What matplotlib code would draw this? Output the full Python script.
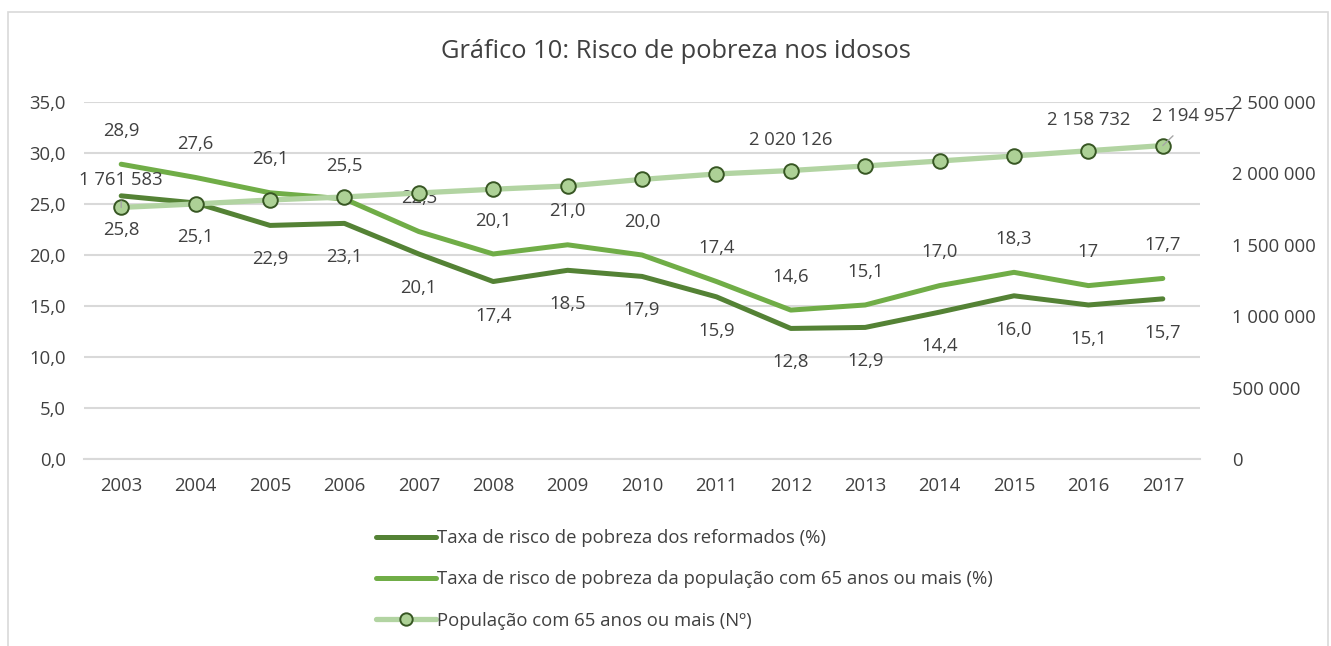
import numpy as np
import matplotlib.pyplot as plt
from matplotlib.patches import Rectangle

plt.rcParams['font.family'] = ['Open Sans', 'DejaVu Sans']

anos = [2003, 2004, 2005, 2006, 2007, 2008, 2009, 2010, 2011, 2012, 2013, 2014, 2015, 2016, 2017]
reformados = [25.8, 25.1, 22.9, 23.1, 20.1, 17.4, 18.5, 17.9, 15.9, 12.8, 12.9, 14.4, 16.0, 15.1, 15.7]
idosos = [28.9, 27.6, 26.1, 25.5, 22.3, 20.1, 21.0, 20.0, 17.4, 14.6, 15.1, 17.0, 18.3, 17.0, 17.7]
idosos_txt = ['28,9', '27,6', '26,1', '25,5', '22,3', '20,1', '21,0', '20,0', '17,4', '14,6', '15,1', '17,0', '18,3', '17', '17,7']
populacao = [1761583, 1786000, 1814000, 1835000, 1863000, 1889000, 1912000, 1958000, 1996000,
             2020126, 2052000, 2087000, 2122000, 2158732, 2194957]
pop_labels = {2003: '1 761 583', 2012: '2 020 126', 2016: '2 158 732', 2017: '2 194 957'}

c_dark = '#548235'
c_mid = '#70AD47'
c_light = '#B2D4A2'
c_text = '#404040'
fs = 13.3

fig = plt.figure(figsize=(13.31, 6.46), dpi=100)
fig.patches.append(Rectangle((8 / 1331, -0.01), 1320 / 1331, 1 - 12 / 646 + 0.01, transform=fig.transFigure,
                             fill=False, edgecolor='#D9D9D9', linewidth=1.2))
ax = fig.add_axes([84 / 1331, 1 - 459 / 646, 1116 / 1331, 357 / 646])
ax2 = ax.twinx()

x = np.arange(len(anos))
l1, = ax.plot(x, reformados, color=c_dark, lw=3.6, solid_capstyle='round', zorder=3,
              label='Taxa de risco de pobreza dos reformados (%)')
l2, = ax.plot(x, idosos, color=c_mid, lw=3.6, solid_capstyle='round', zorder=3,
              label='Taxa de risco de pobreza da população com 65 anos ou mais (%)')
l3, = ax2.plot(x, populacao, color=c_light, lw=3.8, marker='o', ms=10.5, mfc='#ADD196',
               mec='#375623', mew=1.4, solid_capstyle='round',
               label='População com 65 anos ou mais (Nº)')

for xi, v in zip(x, reformados):
    ax.annotate(f'{v:.1f}'.replace('.', ','), (xi, v), xytext=(0, -24.5), textcoords='offset points',
                ha='center', va='center', fontsize=fs, color=c_text)
for xi, v, t in zip(x, idosos, idosos_txt):
    ax.annotate(t, (xi, v), xytext=(0, 24), textcoords='offset points',
                ha='center', va='center', fontsize=fs, color=c_text)

ax2.annotate(pop_labels[2003], (0, populacao[0]), xytext=(0, 20), textcoords='offset points',
             ha='center', va='center', fontsize=fs, color=c_text,
             arrowprops=dict(arrowstyle='-', color='#A6A6A6', lw=1, shrinkA=7, shrinkB=0))
ax2.annotate(pop_labels[2012], (9, populacao[9]), xytext=(0, 22), textcoords='offset points',
             ha='center', va='center', fontsize=fs, color=c_text)
ax2.annotate(pop_labels[2016], (13, populacao[13]), xytext=(0, 22), textcoords='offset points',
             ha='center', va='center', fontsize=fs, color=c_text)
ax2.annotate(pop_labels[2017], (14, populacao[14]), xytext=(22, 21), textcoords='offset points',
             ha='center', va='center', fontsize=fs, color=c_text,
             arrowprops=dict(arrowstyle='-', color='#A6A6A6', lw=1, shrinkA=8, shrinkB=0))

ax.set_xlim(-0.5, len(anos) - 0.5)
ax.set_ylim(0, 35)
ax2.set_ylim(0, 2500000)
ax.set_yticks(np.arange(0, 36, 5))
ax.set_yticklabels([f'{v:.1f}'.replace('.', ',') for v in np.arange(0, 36, 5)])
ax2.set_yticks(np.arange(0, 2500001, 500000))
ax2.set_yticklabels([f'{v:,}'.replace(',', ' ') for v in range(0, 2500001, 500000)])
ax.set_xticks(x)
ax.set_xticklabels([str(a) for a in anos])

ax.grid(axis='y', color='#D9D9D9', lw=1.5)
ax.set_axisbelow(True)
for a in (ax, ax2):
    for s in a.spines.values():
        s.set_visible(False)
    a.tick_params(length=0, labelsize=fs, labelcolor=c_text)
ax.spines['bottom'].set_visible(True)
ax.spines['bottom'].set_color('#D9D9D9')
ax.spines['bottom'].set_linewidth(1.5)
ax.tick_params(axis='y', pad=13)
ax.tick_params(axis='x', pad=13)
ax2.tick_params(axis='y', pad=23)

fig.text(676 / 1331, 1 - 52 / 646, 'Gráfico 10: Risco de pobreza nos idosos', ha='center', va='center',
         fontsize=18.4, color=c_text)

fig.legend(handles=[l1, l2, l3], loc='upper left', bbox_to_anchor=(369 / 1331, 1 - 522 / 646),
           frameon=False, fontsize=fs, handlelength=3.2, handletextpad=0.1, labelspacing=1.25,
           labelcolor=c_text, borderaxespad=0, markerscale=0.85)

fig.savefig('out.png', dpi=100)
